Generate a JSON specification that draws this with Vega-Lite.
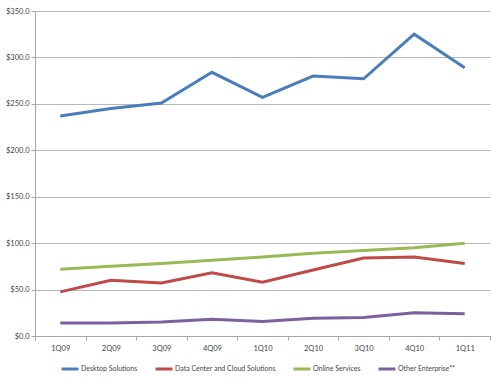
{
  "$schema": "https://vega.github.io/schema/vega-lite/v6.json",
  "width": 455,
  "height": 325,
  "autosize": {"type": "none"},
  "padding": {"left": 35, "top": 11, "right": 10, "bottom": 42},
  "background": "white",
  "config": {
    "view": {"stroke": null},
    "font": "Lato",
    "axis": {"labelFont": "Lato", "labelFontSize": 7.5, "labelColor": "#444444", "domainColor": "#a6a6a6", "tickColor": "#a6a6a6", "gridColor": "#b8b8b8", "tickSize": 4, "title": null}
  },
  "data": {
    "values": [
      {"q": "1Q09", "s": "Desktop Solutions", "v": 237},
      {"q": "2Q09", "s": "Desktop Solutions", "v": 245},
      {"q": "3Q09", "s": "Desktop Solutions", "v": 251},
      {"q": "4Q09", "s": "Desktop Solutions", "v": 284},
      {"q": "1Q10", "s": "Desktop Solutions", "v": 257},
      {"q": "2Q10", "s": "Desktop Solutions", "v": 280},
      {"q": "3Q10", "s": "Desktop Solutions", "v": 277},
      {"q": "4Q10", "s": "Desktop Solutions", "v": 325},
      {"q": "1Q11", "s": "Desktop Solutions", "v": 289},
      {"q": "1Q09", "s": "Data Center and Cloud Solutions", "v": 47.5},
      {"q": "2Q09", "s": "Data Center and Cloud Solutions", "v": 60},
      {"q": "3Q09", "s": "Data Center and Cloud Solutions", "v": 57},
      {"q": "4Q09", "s": "Data Center and Cloud Solutions", "v": 68},
      {"q": "1Q10", "s": "Data Center and Cloud Solutions", "v": 58},
      {"q": "2Q10", "s": "Data Center and Cloud Solutions", "v": 71},
      {"q": "3Q10", "s": "Data Center and Cloud Solutions", "v": 84},
      {"q": "4Q10", "s": "Data Center and Cloud Solutions", "v": 85},
      {"q": "1Q11", "s": "Data Center and Cloud Solutions", "v": 78},
      {"q": "1Q09", "s": "Online Services", "v": 72},
      {"q": "2Q09", "s": "Online Services", "v": 75},
      {"q": "3Q09", "s": "Online Services", "v": 78},
      {"q": "4Q09", "s": "Online Services", "v": 81.5},
      {"q": "1Q10", "s": "Online Services", "v": 85},
      {"q": "2Q10", "s": "Online Services", "v": 89},
      {"q": "3Q10", "s": "Online Services", "v": 92},
      {"q": "4Q10", "s": "Online Services", "v": 95},
      {"q": "1Q11", "s": "Online Services", "v": 100},
      {"q": "1Q09", "s": "Other Enterprise**", "v": 14},
      {"q": "2Q09", "s": "Other Enterprise**", "v": 14},
      {"q": "3Q09", "s": "Other Enterprise**", "v": 15},
      {"q": "4Q09", "s": "Other Enterprise**", "v": 18},
      {"q": "1Q10", "s": "Other Enterprise**", "v": 15.5},
      {"q": "2Q10", "s": "Other Enterprise**", "v": 19},
      {"q": "3Q10", "s": "Other Enterprise**", "v": 20},
      {"q": "4Q10", "s": "Other Enterprise**", "v": 25},
      {"q": "1Q11", "s": "Other Enterprise**", "v": 24}
    ]
  },
  "mark": {"type": "line", "strokeWidth": 3, "strokeJoin": "miter"},
  "encoding": {
    "x": {
      "field": "q", "type": "nominal", "sort": null,
      "scale": {"type": "band", "paddingInner": 0, "paddingOuter": 0},
      "axis": {"labelAngle": 0, "tickBand": "extent", "grid": false, "labelPadding": 4}
    },
    "y": {
      "field": "v", "type": "quantitative",
      "scale": {"domain": [0, 350], "nice": false},
      "axis": {"values": [0, 50, 100, 150, 200, 250, 300, 350], "format": "$,.1f", "grid": true, "labelPadding": 2}
    },
    "color": {
      "field": "s", "type": "nominal",
      "scale": {"domain": ["Desktop Solutions", "Data Center and Cloud Solutions", "Online Services", "Other Enterprise**"], "range": ["#4a7ebb", "#be4b48", "#98b954", "#7d60a0"]},
      "legend": {"title": null, "orient": "none", "direction": "horizontal", "legendX": 25, "legendY": 348, "symbolType": "stroke", "symbolSize": 289, "symbolStrokeWidth": 3, "labelFont": "Lato", "labelFontSize": 7, "labelColor": "#444444", "labelOffset": 1, "columnPadding": 11}
    }
  }
}
